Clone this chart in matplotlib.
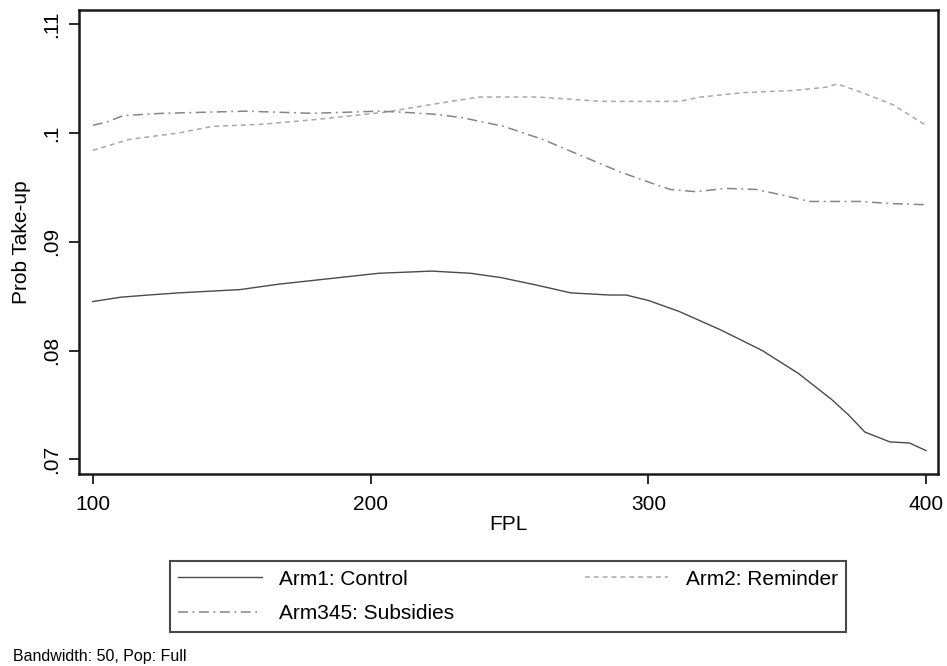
import matplotlib
matplotlib.use("Agg")
import matplotlib.pyplot as plt

plt.rcParams['font.family'] = ['Liberation Sans', 'DejaVu Sans']

# values
fpl_control = [100, 110, 120, 131, 153, 167, 185, 203, 222, 236, 247, 260, 272,
               286, 292, 300, 311, 326, 341, 354, 366, 372, 378, 387, 394, 400]
take_control = [0.0845, 0.0849, 0.0851, 0.0853, 0.0856, 0.0861, 0.0866, 0.0871,
                0.0873, 0.0871, 0.0867, 0.0860, 0.0853, 0.0851, 0.0851, 0.0846,
                0.0836, 0.0819, 0.0800, 0.0779, 0.0755, 0.0741, 0.0725, 0.0716,
                0.0715, 0.0708]

fpl_reminder = [100, 113, 131, 143, 161, 179, 205, 224, 239, 260, 272, 283, 300,
                311, 319, 334, 352, 364, 368, 376, 388, 400]
take_reminder = [0.0984, 0.0994, 0.1000, 0.1006, 0.1008, 0.1012, 0.1019, 0.1027,
                 0.1033, 0.1033, 0.1031, 0.1029, 0.1029, 0.1029, 0.1033, 0.1037,
                 0.1039, 0.1042, 0.1045, 0.1038, 0.1026, 0.1007]

fpl_subsidy = [100, 105, 111, 125, 155, 179, 203, 212, 224, 233, 248, 262, 275,
               290, 301, 308, 317, 328, 339, 348, 358, 376, 388, 400]
take_subsidy = [0.1007, 0.1010, 0.1016, 0.1018, 0.1020, 0.1018, 0.1020, 0.1019,
                0.1017, 0.1014, 0.1006, 0.0994, 0.0980, 0.0964, 0.0954, 0.0948,
                0.0946, 0.0949, 0.0948, 0.0943, 0.0937, 0.0937, 0.0935, 0.0934]

x_ticks = [100, 200, 300, 400]
y_ticks = [0.07, 0.08, 0.09, 0.10, 0.11]
y_ticklabels = ['.07', '.08', '.09', '.1', '.11']

fig = plt.figure(figsize=(9.47, 6.66), dpi=100)
ax = fig.add_axes([0.0834, 0.2883, 0.9071, 0.6967])

ax.plot(fpl_control, take_control, color='#4a4a4a', lw=1.0, ls='-',
        label='Arm1: Control')
ax.plot(fpl_reminder, take_reminder, color='#a8a8a8', lw=1.1,
        dashes=(3.2, 2.6), label='Arm2: Reminder')
ax.plot(fpl_subsidy, take_subsidy, color='#858585', lw=1.1,
        dashes=(6.5, 3.0, 1.2, 3.0), label='Arm345: Subsidies')

ax.set_xlim(95, 404.3)
ax.set_ylim(0.06865, 0.1113)
ax.set_xticks(x_ticks)
ax.set_yticks(y_ticks)
ax.set_yticklabels(y_ticklabels, rotation=90, va='center')

for s in ax.spines.values():
    s.set_linewidth(1.8)
    s.set_color('#1a1a1a')
ax.tick_params(axis='both', length=7, width=1.3, labelsize=15, color='#1a1a1a')
ax.tick_params(axis='x', pad=8)
ax.tick_params(axis='y', pad=6)

ax.set_xlabel('FPL', fontsize=15, labelpad=1)
ax.set_ylabel('Prob Take-up', fontsize=15, labelpad=8)

handles, labels = ax.get_legend_handles_labels()
order = [0, 2, 1]
leg = fig.legend([handles[i] for i in order], [labels[i] for i in order],
                 ncol=2, loc='center', mode='expand',
                 bbox_to_anchor=(0.1795, 0.045, 0.714, 0.119),
                 fontsize=15, frameon=True, fancybox=False,
                 handlelength=4.0, handletextpad=0.85, labelspacing=0.75,
                 borderpad=0.4, borderaxespad=0)
leg.get_frame().set_edgecolor('#1a1a1a')
leg.get_frame().set_linewidth(1.5)

fig.text(0.014, 0.015, 'Bandwidth: 50, Pop: Full', fontsize=11.5, va='center')

fig.savefig('out.png', dpi=100, facecolor='white')
